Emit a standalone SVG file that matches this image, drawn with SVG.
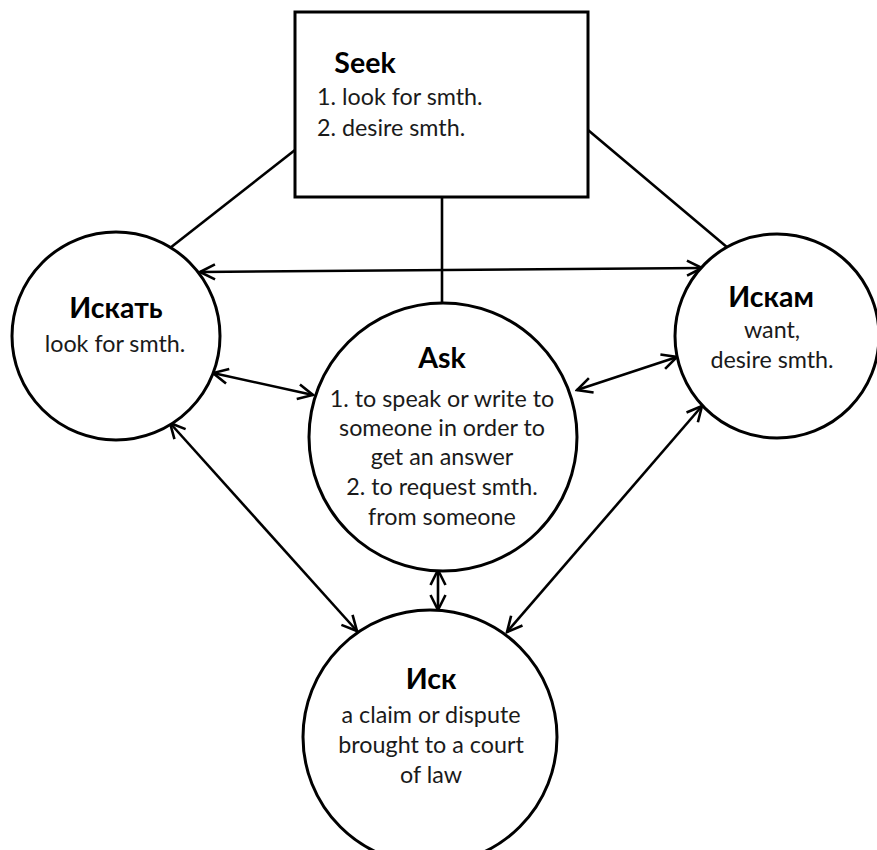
<svg xmlns="http://www.w3.org/2000/svg" width="877" height="850" viewBox="0 0 877 850">
<style>
.shape{fill:#fff;stroke:#000;stroke-width:3}
.ln{stroke:#000;stroke-width:2.6;fill:none}
.arr{stroke:#000;stroke-width:2.6;fill:none;marker-start:url(#ah);marker-end:url(#ah)}
text{font-family:"Lato","Open Sans","Liberation Sans",sans-serif;text-anchor:middle;fill:#1a1a1a}
.t{font-weight:bold;font-size:28.5px;fill:#000}
.d{font-size:23.3px}
</style>
<defs>
<marker id="ah" viewBox="0 0 20 20" refX="18" refY="10" markerWidth="20" markerHeight="20" markerUnits="userSpaceOnUse" orient="auto-start-reverse">
<path d="M3,2.5 L18,10 L3,17.5" fill="none" stroke="#000" stroke-width="2.6"/>
</marker>
</defs>
<g id="connectors">
<line class="ln" x1="295" y1="150" x2="170" y2="248"/>
<line class="ln" x1="588" y1="130" x2="728" y2="248"/>
<line class="ln" x1="442" y1="197" x2="442" y2="305"/>
<line class="arr" x1="200" y1="272" x2="702" y2="268"/>
<line class="arr" x1="213" y1="373" x2="313" y2="395"/>
<line class="arr" x1="577" y1="390" x2="677" y2="357"/>
<line class="arr" x1="170" y1="423" x2="357" y2="631"/>
<line class="arr" x1="702" y1="406" x2="507" y2="632"/>
<line class="arr" x1="438" y1="570" x2="438" y2="610"/>
</g>
<g id="seek">
<rect class="shape" x="295" y="12" width="293" height="185"/>
<text class="t" x="365" y="73">Seek</text>
<text class="d" x="317" y="105" style="text-anchor:start">1. look for smth.</text>
<text class="d" x="317" y="136" style="text-anchor:start">2. desire smth.</text>
</g>
<g id="iskat">
<circle class="shape" cx="116" cy="336" r="104"/>
<text class="t" x="116" y="318">Искать</text>
<text class="d" x="115" y="352">look for smth.</text>
</g>
<g id="iskam">
<circle class="shape" cx="777" cy="336" r="102"/>
<text class="t" x="771" y="307">Искам</text>
<text class="d" x="772" y="338">want,</text>
<text class="d" x="772" y="368">desire smth.</text>
</g>
<g id="ask">
<circle class="shape" cx="443" cy="437" r="134"/>
<text class="t" x="442" y="368">Ask</text>
<text class="d" x="442" y="407">1. to speak or write to</text>
<text class="d" x="442" y="436">someone in order to</text>
<text class="d" x="442" y="465">get an answer</text>
<text class="d" x="442" y="495">2. to request smth.</text>
<text class="d" x="442" y="525">from someone</text>
</g>
<g id="isk">
<circle class="shape" cx="430" cy="737" r="127"/>
<text class="t" x="431" y="689">Иск</text>
<text class="d" x="431" y="723">a claim or dispute</text>
<text class="d" x="431" y="753">brought to a court</text>
<text class="d" x="431" y="783">of law</text>
</g>
</svg>
